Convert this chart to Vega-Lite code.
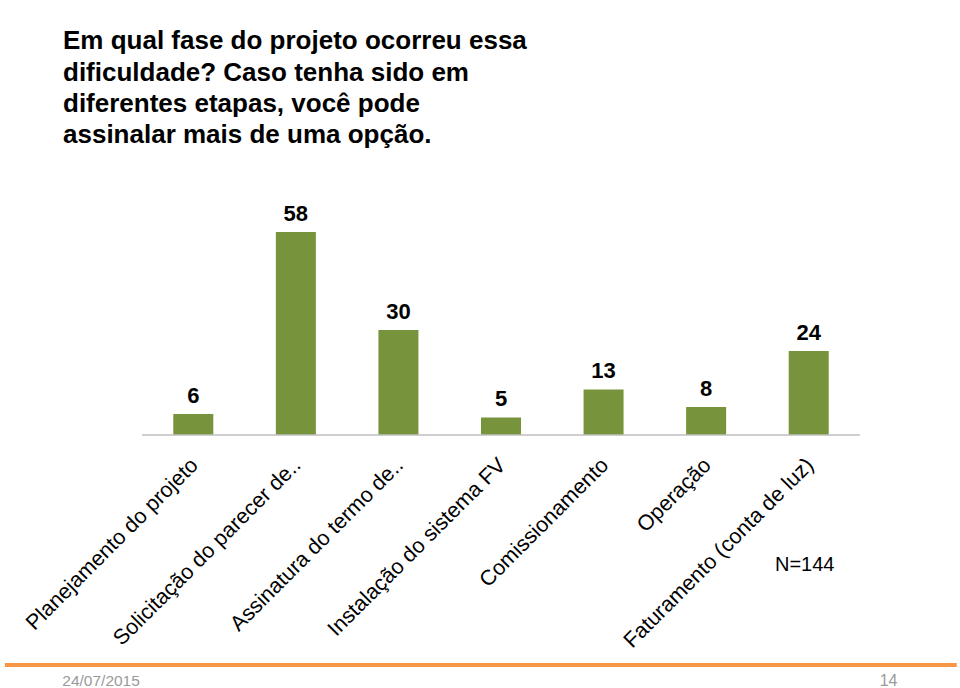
{
  "$schema": "https://vega.github.io/schema/vega-lite/v6.json",
  "width": 960,
  "height": 518,
  "autosize": {"type": "none"},
  "padding": {"top": 170, "left": 0, "right": 0, "bottom": 0},
  "background": "white",
  "config": {"view": {"stroke": null}, "font": "Liberation Sans"},
  "title": {
    "text": ["Em qual fase do projeto ocorreu essa", "dificuldade? Caso tenha sido em", "diferentes etapas, você pode", "assinalar mais de uma opção."],
    "anchor": "start",
    "frame": "group",
    "dx": 63,
    "offset": 22,
    "font": "Liberation Sans",
    "fontSize": 26,
    "fontWeight": "bold",
    "lineHeight": 31.2,
    "color": "#000000"
  },
  "data": {
    "values": [
      {"fase": "Planejamento do projeto", "n": 6},
      {"fase": "Solicitação do parecer de..", "n": 58},
      {"fase": "Assinatura do termo de..", "n": 30},
      {"fase": "Instalação do sistema FV", "n": 5},
      {"fase": "Comissionamento", "n": 13},
      {"fase": "Operação", "n": 8},
      {"fase": "Faturamento (conta de luz)", "n": 24}
    ]
  },
  "encoding": {
    "x": {
      "field": "fase",
      "type": "nominal",
      "sort": null,
      "scale": {"range": [142, 860], "paddingInner": 0.61, "paddingOuter": 0.305},
      "axis": {
        "title": null,
        "orient": "bottom",
        "offset": -253,
        "domain": false,
        "ticks": false,
        "labelAngle": -45,
        "labelFont": "Liberation Sans",
        "labelFontSize": 21.5,
        "labelFontWeight": "normal",
        "labelColor": "#000000",
        "labelPadding": 19,
        "labelOffset": -6,
        "labelLimit": 400
      }
    }
  },
  "layer": [
    {
      "mark": {"type": "bar", "color": "#77933C"},
      "encoding": {
        "y": {"field": "n", "type": "quantitative", "scale": {"domain": [-72.29, 75.71], "nice": false, "zero": false}, "axis": null}
      }
    },
    {
      "mark": {"type": "text", "font": "Liberation Sans", "fontSize": 22, "fontWeight": "bold", "baseline": "alphabetic", "dy": -11, "color": "#000000"},
      "encoding": {
        "y": {"field": "n", "type": "quantitative"},
        "text": {"field": "n", "type": "quantitative"}
      }
    },
    {
      "data": {"values": [{}]},
      "mark": {"type": "rule", "color": "#BFBFBF", "strokeWidth": 1.5},
      "encoding": {
        "x": {"datum": "Planejamento do projeto", "bandPosition": -0.78},
        "x2": {"datum": "Faturamento (conta de luz)", "bandPosition": 1.78},
        "y": {"datum": 0}
      }
    },
    {
      "data": {"values": [{}]},
      "mark": {"type": "rule", "color": "#F79646", "strokeWidth": 4},
      "encoding": {
        "x": {"datum": "Planejamento do projeto", "bandPosition": -4.21},
        "x2": {"datum": "Faturamento (conta de luz)", "bandPosition": 4.2},
        "y": {"datum": -65.7}
      }
    },
    {
      "data": {"values": [{}]},
      "mark": {"type": "text", "text": "N=144", "font": "Liberation Sans", "fontSize": 20, "fontWeight": "normal", "align": "center", "baseline": "alphabetic", "dx": -4, "color": "#000000"},
      "encoding": {
        "x": {"datum": "Faturamento (conta de luz)"},
        "y": {"datum": -38.9}
      }
    },
    {
      "data": {"values": [{}]},
      "mark": {"type": "text", "text": "24/07/2015", "font": "Liberation Sans", "fontSize": 15.5, "fontWeight": "normal", "align": "left", "baseline": "alphabetic", "dx": -131, "color": "#9A9A9A"},
      "encoding": {
        "x": {"datum": "Planejamento do projeto"},
        "y": {"datum": -71.7}
      }
    },
    {
      "data": {"values": [{}]},
      "mark": {"type": "text", "text": "14", "font": "Liberation Sans", "fontSize": 16, "fontWeight": "normal", "align": "left", "baseline": "alphabetic", "dx": 71, "color": "#9A9A9A"},
      "encoding": {
        "x": {"datum": "Faturamento (conta de luz)"},
        "y": {"datum": -71.7}
      }
    }
  ]
}
